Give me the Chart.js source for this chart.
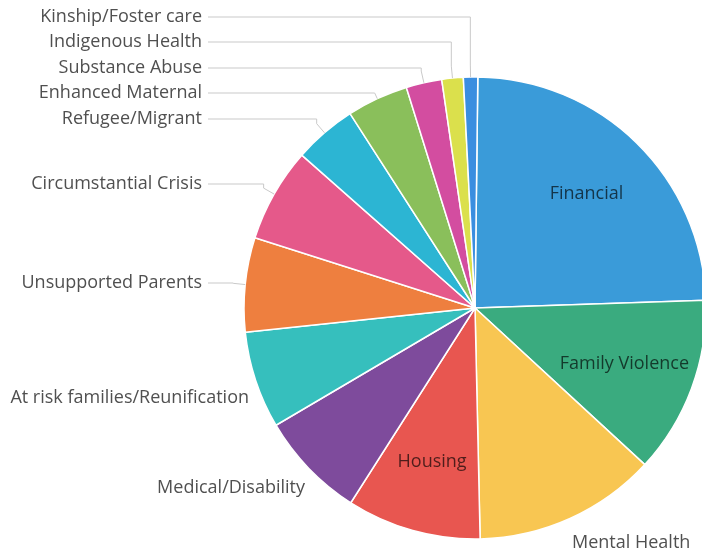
<!DOCTYPE html>
<html>
<head>
<meta charset="utf-8">
<script src="https://cdn.jsdelivr.net/npm/chart.js@4/dist/chart.umd.min.js"></script>
<style>
  html, body { margin: 0; padding: 0; background: #fff; overflow: hidden; }
  #wrap { width: 702px; height: 555px; overflow: hidden; }
</style>
</head>
<body>
<div id="wrap"><canvas id="pie" width="712" height="555"></canvas></div>
<script>
// Data
const categories = [
    'Financial', 'Family Violence', 'Mental Health', 'Housing', 'Medical/Disability',
    'At risk families/Reunification', 'Unsupported Parents', 'Circumstantial Crisis',
    'Refugee/Migrant', 'Enhanced Maternal', 'Substance Abuse', 'Indigenous Health',
    'Kinship/Foster care'
];
const values = [24.3, 12.4, 12.8, 9.4, 7.5, 6.8, 6.6, 6.6, 4.4, 4.3, 2.5, 1.5, 1.0];
const colors = [
    '#3a9bd9', '#3aab7f', '#f8c652', '#e85650', '#7e4b9c', '#36bfbd', '#ee7f3f',
    '#e5598a', '#2cb5d3', '#8abf5b', '#d34da0', '#dbe04c', '#3a8ee0'
];

// Where each label goes (inside the slice, or outside with a leader line)
const placement = {
    'Financial': { mode: 'in' },
    'Family Violence': { mode: 'in' },
    'Housing': { mode: 'in' },
    'Mental Health': { mode: 'out', x: 572, y: 543, align: 'left', line: false },
    'Medical/Disability': { mode: 'out', x: 305, y: 488, align: 'right', line: false },
    'At risk families/Reunification': { mode: 'out', x: 249, y: 398, align: 'right', line: false },
    'Unsupported Parents': { mode: 'out', x: 202, y: 283, align: 'right', line: true },
    'Circumstantial Crisis': { mode: 'out', x: 202, y: 184, align: 'right', line: true },
    'Refugee/Migrant': { mode: 'out', x: 202, y: 119, align: 'right', line: true },
    'Enhanced Maternal': { mode: 'out', x: 202, y: 93, align: 'right', line: true },
    'Substance Abuse': { mode: 'out', x: 202, y: 68, align: 'right', line: true },
    'Indigenous Health': { mode: 'out', x: 202, y: 42, align: 'right', line: true },
    'Kinship/Foster care': { mode: 'out', x: 202, y: 17, align: 'right', line: true }
};

const FONT = '18px "Open Sans", "Noto Sans", sans-serif';

// Draws slice labels and leader lines from the arc elements
const sliceLabels = {
    id: 'sliceLabels',
    afterDatasetsDraw(chart) {
        const ctx = chart.ctx;
        const meta = chart.getDatasetMeta(0);
        ctx.save();
        ctx.font = FONT;
        ctx.textBaseline = 'middle';
        meta.data.forEach((arc, i) => {
            const p = placement[categories[i]];
            const { x, y, startAngle, endAngle, outerRadius } = arc.getProps(['x', 'y', 'startAngle', 'endAngle', 'outerRadius'], true);
            const mid = (startAngle + endAngle) / 2;
            const cx = Math.cos(mid), cy = Math.sin(mid);

            if (p.mode === 'in') {
                const r = outerRadius * 0.69;
                ctx.fillStyle = 'rgba(0, 0, 0, 0.66)';
                ctx.textAlign = 'center';
                ctx.fillText(categories[i], x + cx * r, y + cy * r);
                return;
            }

            if (p.line) {
                const ax = x + cx * outerRadius;
                const ay = y + cy * outerRadius;
                // elbow: along the radius until the label row, or 12px then straight up
                let t = cy !== 0 ? (p.y - ay) / cy : 12;
                if (t < 0 || t > 12) t = 12;
                const ex = ax + cx * t;
                const ey = ay + cy * t;
                ctx.strokeStyle = '#c9c9c9';
                ctx.lineWidth = 1;
                ctx.beginPath();
                ctx.moveTo(ax, ay);
                ctx.lineTo(ex, ey);
                ctx.lineTo(ex, p.y);
                ctx.lineTo(p.x + 6, p.y);
                ctx.stroke();
            }

            ctx.fillStyle = '#505050';
            ctx.textAlign = p.align;
            ctx.fillText(categories[i], p.x, p.y);
        });
        ctx.restore();
    }
};

const chart = new Chart(document.getElementById('pie'), {
    type: 'pie',
    data: {
        labels: categories,
        datasets: [{
            data: values,
            backgroundColor: colors,
            borderColor: '#ffffff',
            borderWidth: 1.5
        }]
    },
    options: {
        responsive: false,
        animation: false,
        rotation: 0.7,
        radius: 231,
        layout: {
            padding: { left: 245, right: 7, top: 77, bottom: 16 }
        },
        plugins: {
            legend: { display: false },
            tooltip: { enabled: false }
        }
    },
    plugins: [sliceLabels]
});
</script>
</body>
</html>
